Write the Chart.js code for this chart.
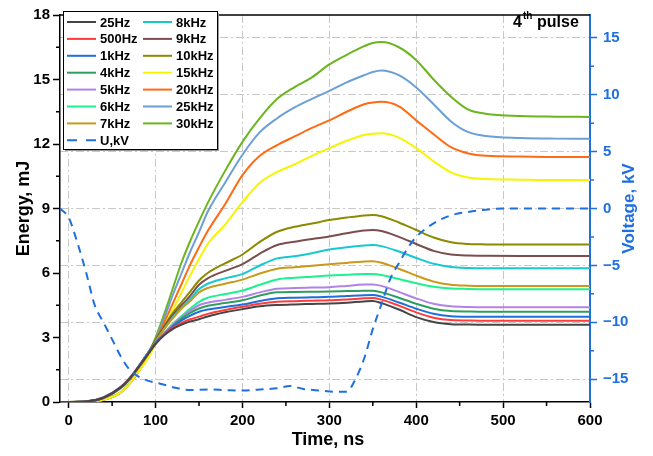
<!DOCTYPE html>
<html>
<head>
<meta charset="utf-8">
<script src="https://cdn.jsdelivr.net/npm/chart.js@4.4.1/dist/chart.umd.min.js"></script>
<style>
  html, body { margin: 0; padding: 0; background: #fff; }
  #wrap { width: 653px; height: 456px; }
</style>
</head>
<body>
<div id="wrap"><canvas id="energyChart" width="653" height="456"></canvas></div>
<script>
// Time axis shared by the energy curves (ns)
const timeNs = [-10, 0, 20, 40, 60, 70, 80, 90, 100, 110, 120, 130, 140, 150, 160, 180, 200, 220, 240, 260,
                280, 300, 320, 340, 350, 360, 380, 400, 420, 440, 460, 480, 520, 560, 600];

// Energy, mJ
const e25Hz  = [0, 0, 0.02, 0.2, 0.68, 1.08, 1.6, 2.15, 2.7, 3.1, 3.4, 3.6, 3.75, 3.85, 3.98, 4.17, 4.32, 4.45, 4.51, 4.54,
                4.56, 4.58, 4.62, 4.68, 4.7, 4.6, 4.3, 3.95, 3.72, 3.62, 3.6, 3.59, 3.59, 3.59, 3.59];
const e500Hz = [0, 0, 0.02, 0.2, 0.68, 1.08, 1.6, 2.15, 2.7, 3.15, 3.45, 3.68, 3.85, 3.97, 4.1, 4.28, 4.43, 4.57, 4.66, 4.69,
                4.71, 4.73, 4.77, 4.82, 4.84, 4.76, 4.48, 4.17, 3.92, 3.81, 3.79, 3.78, 3.78, 3.78, 3.78];
const e1kHz  = [0, 0, 0.02, 0.2, 0.68, 1.08, 1.62, 2.2, 2.75, 3.15, 3.5, 3.8, 4.02, 4.2, 4.3, 4.42, 4.53, 4.7, 4.82, 4.85,
                4.87, 4.89, 4.93, 4.97, 4.98, 4.9, 4.63, 4.34, 4.1, 3.99, 3.97, 3.97, 3.97, 3.97, 3.97];
const e4kHz  = [0, 0, 0.02, 0.2, 0.68, 1.08, 1.62, 2.2, 2.72, 3.15, 3.55, 3.88, 4.15, 4.35, 4.48, 4.6, 4.73, 4.95, 5.1, 5.12,
                5.13, 5.14, 5.16, 5.18, 5.17, 5.1, 4.85, 4.57, 4.34, 4.23, 4.21, 4.2, 4.2, 4.2, 4.2];
const e5kHz  = [0, 0, 0.03, 0.22, 0.72, 1.12, 1.65, 2.2, 2.75, 3.2, 3.6, 3.95, 4.25, 4.5, 4.62, 4.75, 4.89, 5.1, 5.27, 5.3,
                5.32, 5.34, 5.4, 5.46, 5.47, 5.4, 5.12, 4.82, 4.57, 4.45, 4.42, 4.41, 4.41, 4.41, 4.41];
const e6kHz  = [0, 0, 0.02, 0.18, 0.65, 1.05, 1.6, 2.15, 2.7, 3.2, 3.65, 4.0, 4.35, 4.66, 4.85, 5.02, 5.19, 5.45, 5.7, 5.78,
                5.83, 5.88, 5.92, 5.95, 5.95, 5.91, 5.72, 5.52, 5.36, 5.28, 5.26, 5.25, 5.25, 5.25, 5.25];
const e7kHz  = [0, 0, 0.02, 0.18, 0.65, 1.05, 1.6, 2.2, 2.8, 3.4, 3.9, 4.35, 4.7, 5.1, 5.3, 5.5, 5.69, 5.98, 6.2, 6.27,
                6.34, 6.41, 6.47, 6.54, 6.55, 6.48, 6.2, 5.88, 5.6, 5.45, 5.41, 5.4, 5.4, 5.4, 5.4];
const e8kHz  = [0, 0, 0.02, 0.18, 0.65, 1.05, 1.6, 2.2, 2.8, 3.4, 3.95, 4.4, 4.8, 5.25, 5.5, 5.75, 5.95, 6.35, 6.68, 6.78,
                6.92, 7.09, 7.2, 7.28, 7.3, 7.25, 7.0, 6.7, 6.43, 6.28, 6.23, 6.22, 6.22, 6.22, 6.22];
const e9kHz  = [0, 0, 0.02, 0.18, 0.65, 1.05, 1.6, 2.2, 2.85, 3.5, 4.05, 4.5, 4.95, 5.45, 5.75, 6.1, 6.41, 6.9, 7.3, 7.45,
                7.58, 7.7, 7.85, 7.98, 8.0, 7.95, 7.68, 7.35, 7.03, 6.86, 6.81, 6.8, 6.79, 6.79, 6.79];
const e10kHz = [0, 0, 0.02, 0.18, 0.65, 1.05, 1.6, 2.2, 2.9, 3.55, 4.15, 4.65, 5.15, 5.65, 6.0, 6.45, 6.86, 7.45, 7.92, 8.15,
                8.3, 8.46, 8.58, 8.68, 8.7, 8.64, 8.35, 8.0, 7.65, 7.43, 7.35, 7.33, 7.32, 7.32, 7.32];
const e15kHz = [0, 0, 0.02, 0.1, 0.45, 0.85, 1.4, 1.95, 2.7, 3.5, 4.3, 5.1, 5.9, 6.65, 7.35, 8.25, 9.3, 10.2, 10.7, 11.05,
                11.45, 11.81, 12.15, 12.42, 12.48, 12.5, 12.3, 11.81, 11.2, 10.68, 10.44, 10.37, 10.34, 10.32, 10.32];
const e20kHz = [0, 0, 0.02, 0.1, 0.45, 0.85, 1.4, 2.0, 2.8, 3.7, 4.6, 5.5, 6.4, 7.2, 7.95, 9.2, 10.55, 11.45, 11.95, 12.35,
                12.75, 13.1, 13.5, 13.85, 13.93, 13.96, 13.75, 13.1, 12.45, 11.85, 11.56, 11.45, 11.42, 11.4, 11.4];
const e25kHz = [0, 0, 0.02, 0.1, 0.45, 0.85, 1.4, 2.05, 2.9, 3.9, 5.0, 6.0, 7.0, 7.9, 8.85, 10.2, 11.5, 12.55, 13.2, 13.7,
                14.1, 14.47, 14.87, 15.2, 15.35, 15.42, 15.2, 14.63, 13.85, 13.05, 12.55, 12.37, 12.28, 12.25, 12.24];
const e30kHz = [0, 0, 0.02, 0.1, 0.45, 0.85, 1.4, 2.1, 3.0, 4.1, 5.3, 6.5, 7.5, 8.4, 9.25, 10.75, 12.1, 13.2, 14.1, 14.65,
                15.1, 15.7, 16.15, 16.55, 16.7, 16.74, 16.5, 15.9, 15.0, 14.2, 13.6, 13.41, 13.3, 13.27, 13.26];

// Voltage pulse, kV
const voltTime = [-10, 0, 10, 20, 30, 40, 50, 60, 70, 80, 90, 100, 110, 120, 140, 160, 180, 200, 220, 240,
                  255, 270, 290, 305, 320, 330, 340, 350, 360, 370, 380, 390, 400, 420, 440, 460, 480, 500, 550, 600];
const voltKV   = [0, -0.8, -3.0, -5.6, -8.5, -10.0, -11.5, -13.0, -14.15, -14.75, -15.1, -15.3, -15.48, -15.7, -15.95, -15.9, -15.95, -16.0, -15.9, -15.8,
                  -15.6, -15.85, -16.0, -16.1, -16.1, -15.0, -13.2, -10.6, -8.4, -6.2, -4.8, -3.5, -2.5, -1.3, -0.6, -0.3, -0.1, 0, 0, 0];

const seriesLabels = ['25Hz', '500Hz', '1kHz', '4kHz', '5kHz', '6kHz', '7kHz', '8kHz', '9kHz', '10kHz', '15kHz', '20kHz', '25kHz', '30kHz'];
const seriesValues = [e25Hz, e500Hz, e1kHz, e4kHz, e5kHz, e6kHz, e7kHz, e8kHz, e9kHz, e10kHz, e15kHz, e20kHz, e25kHz, e30kHz];
const seriesColors = ['#454545', '#ff3b3b', '#1e6fdc', '#2e9e5e', '#b283e6', '#1ef28f', '#c99a17',
                      '#17c9cf', '#7b4e4e', '#8c8a00', '#f5f500', '#ff6a14', '#6b9fd6', '#6bb51f'];

const xTicks = [0, 100, 200, 300, 400, 500, 600];
const xMinor = [50, 150, 250, 350, 450, 550];
const eTicks = [0, 3, 6, 9, 12, 15, 18];
const eMinor = [1.5, 4.5, 7.5, 10.5, 13.5, 16.5];
const vTicks = [-15, -10, -5, 0, 5, 10, 15];
const vMinor = [-12.5, -7.5, -2.5, 2.5, 7.5, 12.5];

const BLUE = '#1f6fe0';
const GRID = '#c8c8c8';
const FONT = '"Liberation Sans", Arial, sans-serif';

const datasets = seriesLabels.map((label, i) => ({
    label: label,
    data: timeNs.map((t, k) => ({ x: t, y: seriesValues[i][k] })),
    borderColor: seriesColors[i],
    borderWidth: 2,
    pointRadius: 0,
    fill: false,
    cubicInterpolationMode: 'monotone',
    yAxisID: 'y'
}));

datasets.push({
    label: 'U,kV',
    data: voltTime.map((t, k) => ({ x: t, y: voltKV[k] })),
    borderColor: BLUE,
    borderWidth: 2,
    borderDash: [8, 6],
    pointRadius: 0,
    fill: false,
    cubicInterpolationMode: 'monotone',
    yAxisID: 'y1',
    order: -1
});

function setTicks(values) {
    return scale => { scale.ticks = values.map(v => ({ value: v })); };
}

// Minor ticks, axis titles, frame, legend and the annotation
const decor = {
    id: 'decor',
    afterDraw(chart) {
        const { ctx, chartArea: a, scales } = chart;
        ctx.save();

        // top frame
        ctx.strokeStyle = '#000';
        ctx.lineWidth = 1.5;
        ctx.beginPath();
        ctx.moveTo(a.left, a.top);
        ctx.lineTo(a.right, a.top);
        ctx.stroke();

        // minor ticks
        ctx.lineWidth = 1.5;
        ctx.beginPath();
        xMinor.forEach(v => {
            const px = scales.x.getPixelForValue(v);
            ctx.moveTo(px, a.bottom);
            ctx.lineTo(px, a.bottom + 4);
        });
        eMinor.forEach(v => {
            const py = scales.y.getPixelForValue(v);
            ctx.moveTo(a.left, py);
            ctx.lineTo(a.left - 4, py);
        });
        ctx.stroke();
        ctx.strokeStyle = BLUE;
        ctx.beginPath();
        vMinor.forEach(v => {
            const py = scales.y1.getPixelForValue(v);
            ctx.moveTo(a.right, py);
            ctx.lineTo(a.right + 4, py);
        });
        ctx.stroke();

        // axis titles
        ctx.font = 'bold 18px ' + FONT;
        ctx.textAlign = 'center';
        ctx.textBaseline = 'middle';
        ctx.fillStyle = '#000';
        ctx.fillText('Time, ns', (a.left + a.right) / 2 + 3, 440);
        ctx.save();
        ctx.translate(24, (a.top + a.bottom) / 2);
        ctx.rotate(-Math.PI / 2);
        ctx.fillText('Energy, mJ', 0, 0);
        ctx.restore();
        ctx.save();
        ctx.fillStyle = BLUE;
        ctx.font = 'bold 17px ' + FONT;
        ctx.translate(629, (a.top + a.bottom) / 2);
        ctx.rotate(-Math.PI / 2);
        ctx.fillText('Voltage, kV', 0, 0);
        ctx.restore();

        // annotation
        ctx.textAlign = 'left';
        ctx.textBaseline = 'alphabetic';
        ctx.fillStyle = '#000';
        ctx.font = 'bold 16px ' + FONT;
        ctx.fillText('4', 513, 27);
        ctx.font = 'bold 10px ' + FONT;
        ctx.fillText('th', 523, 19);
        ctx.font = 'bold 16px ' + FONT;
        ctx.fillText('pulse', 537, 27);

        // legend box
        const bx = 63, by = 11, bw = 154, bh = 138;
        ctx.fillStyle = '#9a9a9a';
        ctx.fillRect(bx + 2, by + 2, bw, bh);
        ctx.fillStyle = '#fff';
        ctx.fillRect(bx, by, bw, bh);
        ctx.strokeStyle = '#000';
        ctx.lineWidth = 1;
        ctx.strokeRect(bx + 0.5, by + 0.5, bw, bh);

        ctx.font = 'bold 13px ' + FONT;
        ctx.textBaseline = 'middle';
        const rowH = 16.9;
        chart.data.datasets.forEach((ds, i) => {
            let col, row;
            if (i < 7) { col = 0; row = i; }
            else if (i < 14) { col = 1; row = i - 7; }
            else { col = 0; row = 7; }
            const lx = col === 0 ? 67 : 143;
            const ly = 22 + row * rowH;
            ctx.strokeStyle = ds.borderColor;
            ctx.lineWidth = 2;
            ctx.setLineDash(ds.borderDash ? [10, 9] : []);
            ctx.beginPath();
            ctx.moveTo(lx, ly);
            ctx.lineTo(lx + 29, ly);
            ctx.stroke();
            ctx.setLineDash([]);
            ctx.fillStyle = '#000';
            ctx.fillText(ds.label, lx + 33, ly + 1);
        });

        ctx.restore();
    }
};

const tickFont = { family: FONT, size: 15, weight: 'bold' };
const gridDash = [8, 3, 2, 3];

new Chart(document.getElementById('energyChart'), {
    type: 'line',
    data: { datasets: datasets },
    options: {
        responsive: false,
        animation: false,
        devicePixelRatio: 1,
        layout: { padding: { top: 8, left: 0, right: 0, bottom: 0 }, autoPadding: false },
        plugins: { legend: { display: false }, tooltip: { enabled: false } },
        scales: {
            x: {
                type: 'linear',
                min: -10,
                max: 600,
                afterBuildTicks: setTicks(xTicks),
                afterFit: s => { s.height = 54; },
                ticks: { font: tickFont, color: '#000', padding: 4, maxRotation: 0 },
                grid: { color: GRID, lineWidth: 1, tickColor: '#000', tickLength: 6, tickWidth: 1.5 },
                border: { color: '#000', width: 1.5, dash: gridDash }
            },
            y: {
                position: 'left',
                min: 0,
                max: 18,
                afterBuildTicks: setTicks(eTicks),
                afterFit: s => { s.width = 60; },
                ticks: { font: tickFont, color: '#000', padding: 3 },
                grid: { drawOnChartArea: false, tickColor: '#000', tickLength: 7, tickWidth: 1.5 },
                border: { color: '#000', width: 1.5 }
            },
            y1: {
                position: 'right',
                min: -17,
                max: 17,
                afterBuildTicks: setTicks(vTicks),
                afterFit: s => { s.width = 63; },
                ticks: {
                    font: tickFont,
                    color: BLUE,
                    padding: 6,
                    callback: v => (v < 0 ? '\u2212' + Math.abs(v) : String(v))
                },
                grid: { color: GRID, lineWidth: 1, tickColor: BLUE, tickLength: 7, tickWidth: 1.5 },
                border: { color: BLUE, width: 2, dash: gridDash }
            }
        }
    },
    plugins: [decor]
});
</script>
</body>
</html>
